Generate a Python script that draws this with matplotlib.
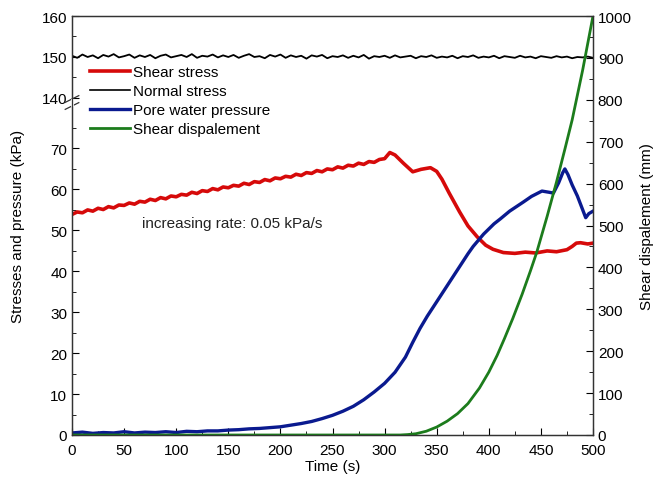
import numpy as np
import matplotlib
matplotlib.use('Agg')
import matplotlib.pyplot as plt
from matplotlib.lines import Line2D

plt.rcParams['font.family'] = ['Liberation Sans', 'DejaVu Sans']

# данные
shear_t = [0, 5, 10, 15, 20, 25, 30, 35, 40, 45, 50, 55, 60, 65, 70, 75, 80, 85, 90, 95,
           100, 105, 110, 115, 120, 125, 130, 135, 140, 145, 150, 155, 160, 165, 170, 175,
           180, 185, 190, 195, 200, 205, 210, 215, 220, 225, 230, 235, 240, 245, 250, 255,
           260, 265, 270, 275, 280, 285, 290, 295, 300, 305, 310, 318, 327, 335, 344, 350,
           355, 362, 372, 380, 389, 397, 404, 414, 425, 435, 445, 456, 465, 475, 480, 484,
           488, 495, 500]
shear_stress = [53.8, 54.4, 54.2, 54.9, 54.6, 55.3, 55.0, 55.7, 55.4, 56.1, 56.0, 56.6, 56.3,
                57.0, 56.8, 57.5, 57.2, 57.9, 57.6, 58.3, 58.1, 58.7, 58.5, 59.2, 58.9, 59.6,
                59.4, 60.1, 59.8, 60.5, 60.3, 60.9, 60.7, 61.4, 61.1, 61.8, 61.6, 62.3, 62.0,
                62.7, 62.5, 63.1, 62.9, 63.6, 63.3, 64.0, 63.8, 64.5, 64.2, 64.9, 64.7, 65.4,
                65.1, 65.8, 65.6, 66.3, 66.0, 66.7, 66.5, 67.2, 67.4, 68.9, 68.3, 66.3, 64.2,
                64.8, 65.2, 64.3, 62.4, 59.0, 54.4, 51.0, 48.3, 46.3, 45.3, 44.5, 44.3, 44.6,
                44.4, 44.9, 44.7, 45.2, 46.0, 46.8, 46.9, 46.6, 46.8]

pore_t = [0, 10, 20, 30, 40, 50, 60, 70, 80, 90, 100, 110, 120, 130, 140, 150, 160, 170,
          180, 190, 200, 210, 220, 230, 240, 250, 260, 270, 280, 290, 300, 310, 320, 327,
          334, 341, 350, 360, 370, 380, 385, 395, 405, 411, 420, 433, 441, 451, 458, 462,
          467, 471, 473, 476, 480, 485, 490, 493, 496, 500]
pore_pressure = [0.5, 0.7, 0.4, 0.6, 0.5, 0.8, 0.5, 0.7, 0.6, 0.8, 0.6, 0.9, 0.8, 1.0, 1.0,
                 1.2, 1.3, 1.5, 1.6, 1.8, 2.0, 2.4, 2.8, 3.3, 4.0, 4.8, 5.8, 7.0, 8.6, 10.5,
                 12.6, 15.3, 19.0, 22.6, 26.0, 29.0, 32.5, 36.4, 40.3, 44.2, 46.0, 49.0, 51.5,
                 52.7, 54.6, 56.8, 58.2, 59.5, 59.2, 59.0, 61.5, 64.0, 64.9, 63.5, 61.0, 58.3,
                 55.0, 53.0, 54.0, 54.6]

disp_t = [0, 315, 322, 330, 340, 350, 360, 370, 380, 391, 400, 408, 415, 423, 432, 440,
          446, 456, 465, 473, 480, 490, 500]
shear_disp = [0, 0, 1, 3, 9, 19, 33, 51, 75, 112, 150, 190, 230, 278, 336, 392, 436, 522,
              604, 682, 752, 870, 1000]

normal_stress = [150.3, 149.8, 150.6, 150.0, 150.4, 149.7, 150.5, 150.1, 150.7, 149.9,
                 150.2, 150.6, 149.8, 150.4, 150.0, 150.5, 149.7, 150.3, 150.6, 149.9,
                 150.2, 150.5, 150.0, 150.7, 149.8, 150.3, 150.1, 150.6, 149.9, 150.4,
                 150.0, 150.5, 149.8, 150.3, 150.7, 150.0, 150.2, 149.7, 150.5, 150.1,
                 150.6, 149.8, 150.4, 150.0, 150.3, 149.6, 150.4, 150.1, 150.5, 149.7,
                 150.2, 150.0, 150.4, 149.8, 150.3, 149.9, 150.5, 149.6, 150.2, 150.0,
                 150.3, 149.8, 150.4, 149.9, 150.1, 150.3, 149.7, 150.2, 150.0, 150.4,
                 149.8, 150.1, 149.9, 150.3, 149.7, 150.2, 150.0, 150.4, 149.8, 150.1,
                 149.9, 150.3, 149.7, 150.2, 150.0, 149.8, 150.3, 149.9, 150.1, 149.7,
                 150.2, 150.0, 149.8, 150.2, 149.9, 150.1, 149.7, 150.0, 149.9, 150.1,
                 149.8]
normal_t = np.linspace(0, 500, len(normal_stress))

# разрыв оси: 75..140 сжимаем
def fwd(v):
    return np.interp(v, [-1000, 75, 140, 1000], [-1000, 75, 82.2, 942.2])

def inv(u):
    return np.interp(u, [-1000, 75, 82.2, 942.2], [-1000, 75, 140, 1000])

fig = plt.figure(figsize=(6.55, 4.81), dpi=100)
ax = fig.add_axes([72/655, 45/481, 521/655, 419/481])
ax.set_yscale('function', functions=(fwd, inv))

red = '#d60a0a'
blue = '#0a1a8f'
green = '#1c7c1c'

ax.plot(normal_t, normal_stress, color='k', lw=1.3)
ax.plot(shear_t, shear_stress, color=red, lw=2.6)
ax.plot(pore_t, pore_pressure, color=blue, lw=2.4)

ax.set_xlim(0, 500)
ax.set_ylim(0, 160)
ax.set_xticks(np.arange(0, 501, 50))
ax.set_xticks(np.arange(25, 500, 50), minor=True)
ax.set_yticks([0, 10, 20, 30, 40, 50, 60, 70, 140, 150, 160])
ax.set_yticks([5, 15, 25, 35, 45, 55, 65, 75, 145, 155], minor=True)
ax.tick_params(which='both', direction='in', labelsize=11, top=False, right=False)
ax.tick_params(which='major', length=5)
ax.tick_params(which='minor', length=3)
ax.tick_params(axis='x', pad=6)

ax2 = ax.twinx()
ax2.plot(disp_t, shear_disp, color=green, lw=2.0)
ax2.set_ylim(0, 1000)
ax2.set_yticks(np.arange(0, 1001, 100))
ax2.set_yticks(np.arange(50, 1000, 100), minor=True)
ax2.tick_params(which='both', direction='in', labelsize=11)
ax2.tick_params(which='major', length=5)
ax2.tick_params(which='minor', length=3)

for a in (ax, ax2):
    for s in a.spines.values():
        s.set_linewidth(0.9)
        s.set_color('#333333')

ax.set_xlabel('Time (s)', fontsize=11, labelpad=1)
ax.set_ylabel('Stresses and pressure (kPa)', fontsize=11, labelpad=12)
ax2.set_ylabel('Shear dispalement (mm)', fontsize=11, labelpad=6)

ax.text(67, 51.6, 'increasing rate: 0.05 kPa/s', fontsize=11, color='#222222', va='center')

# значки разрыва на левой оси
for yb in (100, 107):
    yf = (436 - yb) / 419
    ax.plot([-0.013, 0.013], [yf - 0.008, yf + 0.008], transform=ax.transAxes,
            color='#333333', lw=0.9, clip_on=False)
ax.plot([0, 0], [(436 - 106) / 419, (436 - 101) / 419], transform=ax.transAxes,
        color='white', lw=2, clip_on=False, zorder=5)

handles = [Line2D([], [], color=red, lw=2.6), Line2D([], [], color='k', lw=1.2),
           Line2D([], [], color=blue, lw=2.4), Line2D([], [], color=green, lw=2.0)]
labels = ['Shear stress', 'Normal stress', 'Pore water pressure', 'Shear dispalement']
ax2.legend(handles, labels, loc='upper left', bbox_to_anchor=(18/521, (436 - 66) / 419),
           frameon=False, fontsize=11, handlelength=2.6, handletextpad=0.2,
           labelspacing=0.33, borderpad=0, borderaxespad=0)

fig.savefig('out.png', dpi=100)
